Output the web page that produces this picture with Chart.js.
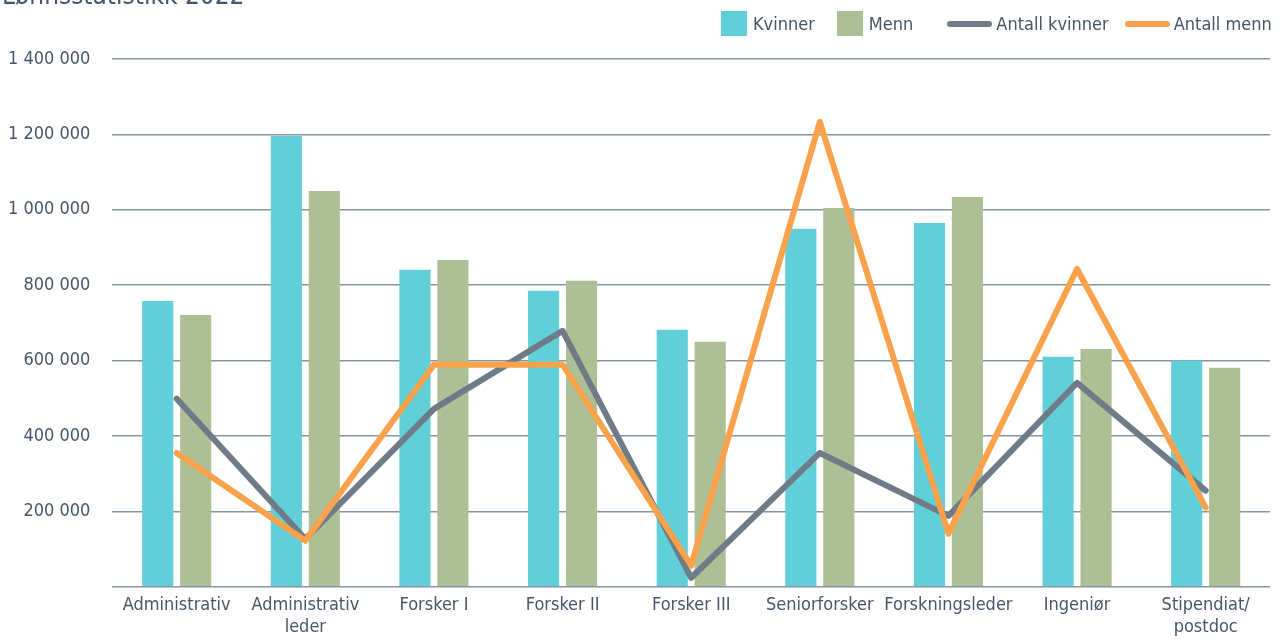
<!DOCTYPE html>
<html lang="no">
<head>
    <meta charset="UTF-8">
    <title>Lønnsstatistikk 2022</title>
    <script src="https://cdn.jsdelivr.net/npm/chart.js"></script>
    <style>
        body { margin: 0; background: #fff; font-family: "DejaVu Sans Condensed", "DejaVu Sans", sans-serif; font-stretch: condensed; color: #46566a; }
        .wrap { position: relative; width: 1282px; height: 640px; overflow: hidden; }
        .title { position: absolute; left: 2px; top: -20px; font-size: 26px; white-space: nowrap; z-index: 2; }
        .legend { position: absolute; top: 11px; left: 721px; display: flex; align-items: center; font-size: 18px; white-space: nowrap; z-index: 2; }
        .legend span.item { display: flex; align-items: center; }
        .legend i { display: inline-block; margin-right: 4px; }
        .legend i.box { width: 26px; height: 25px; margin-right: 6px; }
        .legend i.line { width: 45px; height: 6px; border-radius: 3px; }
        canvas { position: absolute; left: 0; top: 0; }
    </style>
</head>
<body>
<div class="wrap">
    <div class="title">Lønnsstatistikk 2022</div>
    <div class="legend" id="legend"></div>
    <canvas id="chart" width="1282" height="640"></canvas>
</div>
<script>
    // Kategorier
    const categories = ['Administrativ', ['Administrativ', 'leder'], 'Forsker I', 'Forsker II', 'Forsker III',
        'Seniorforsker', 'Forskningsleder', 'Ingeniør', ['Stipendiat/', 'postdoc']];

    // Lønn (kr)
    const lonnKvinner = [758000, 1196000, 841000, 785000, 682000, 950000, 965000, 610000, 600000];
    const lonnMenn = [721000, 1050000, 867000, 812000, 650000, 1005000, 1034000, 631000, 581000];

    // Antall (sekundær akse, skjult)
    const antallKvinner = [49.9, 12.7, 47.2, 67.9, 2.4, 35.5, 18.8, 54.1, 25.5];
    const antallMenn = [35.5, 12.2, 58.9, 58.9, 5.6, 123.3, 14.1, 84.3, 21.0];

    const yTicks = [0, 200000, 400000, 600000, 800000, 1000000, 1200000, 1400000];

    const colors = { kvinner: '#61cfd8', menn: '#adbf94', antallK: '#6f7b87', antallM: '#f9a24b' };
    const textColor = '#46566a';
    const fontFamily = '"DejaVu Sans Condensed", "DejaVu Sans", sans-serif';

    const datasets = [
        { type: 'bar', label: 'Kvinner', data: lonnKvinner, backgroundColor: colors.kvinner, yAxisID: 'y', order: 2,
          categoryPercentage: 0.59, barPercentage: 0.82 },
        { type: 'bar', label: 'Menn', data: lonnMenn, backgroundColor: colors.menn, yAxisID: 'y', order: 2,
          categoryPercentage: 0.59, barPercentage: 0.82 },
        { type: 'line', label: 'Antall kvinner', data: antallKvinner, borderColor: colors.antallK, borderWidth: 6,
          pointRadius: 0, tension: 0, yAxisID: 'y1', order: 1, borderJoinStyle: 'round', borderCapStyle: 'round' },
        { type: 'line', label: 'Antall menn', data: antallMenn, borderColor: colors.antallM, borderWidth: 6,
          pointRadius: 0, tension: 0, yAxisID: 'y1', order: 0, borderJoinStyle: 'round', borderCapStyle: 'round' }
    ];

    // Egen legende
    const legendGaps = [22, 34, 16, 0];
    const legend = document.getElementById('legend');
    datasets.forEach((ds, i) => {
        const item = document.createElement('span');
        item.className = 'item';
        item.style.marginRight = legendGaps[i] + 'px';
        const mark = document.createElement('i');
        mark.className = ds.type === 'bar' ? 'box' : 'line';
        mark.style.background = ds.type === 'bar' ? ds.backgroundColor : ds.borderColor;
        item.appendChild(mark);
        item.appendChild(document.createTextNode(ds.label));
        legend.appendChild(item);
    });

    const ctx = document.getElementById('chart').getContext('2d');
    new Chart(ctx, {
        data: { labels: categories, datasets: datasets },
        options: {
            responsive: false,
            animation: false,
            layout: { padding: { top: 59, right: 12, left: -14, bottom: 2 } },
            plugins: { legend: { display: false }, tooltip: { enabled: false } },
            scales: {
                x: {
                    grid: { display: false },
                    border: { display: false },
                    ticks: { color: textColor, font: { family: fontFamily, size: 18, lineHeight: 1.2 }, padding: 0, maxRotation: 0, autoSkip: false }
                },
                y: {
                    min: 0, max: 1400000,
                    afterBuildTicks: axis => { axis.ticks = yTicks.map(v => ({ value: v })); },
                    grid: { color: '#8794a1', lineWidth: 1.5, drawTicks: false },
                    border: { display: false },
                    ticks: {
                        color: textColor, padding: 22, font: { family: fontFamily, size: 18 },
                        callback: v => v === 0 ? '' : v.toString().replace(/\B(?=(\d{3})+(?!\d))/g, ' ')
                    }
                },
                y1: { display: false, min: 0, max: 140 }
            }
        }
    });
</script>
</body>
</html>
